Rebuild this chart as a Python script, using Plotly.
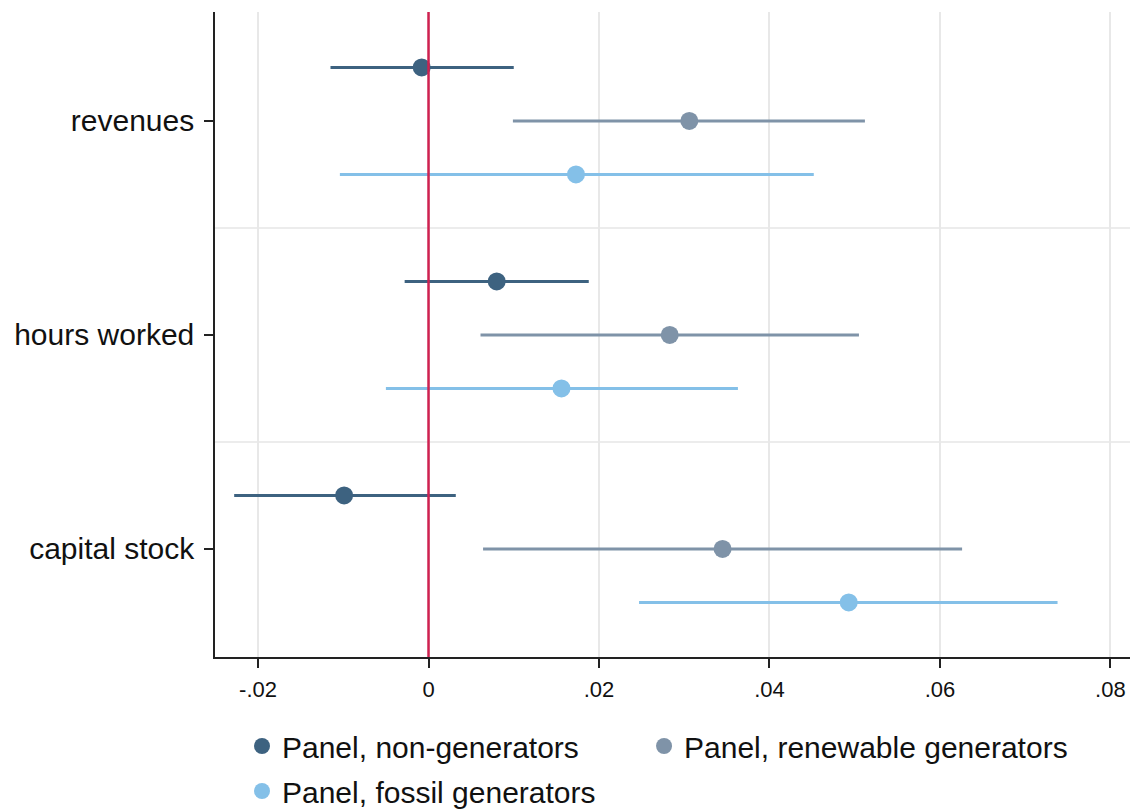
import plotly.graph_objects as go

categories = ["revenues", "hours worked", "capital stock"]
series_names = ["Panel, non-generators", "Panel, renewable generators", "Panel, fossil generators"]
colors = ["#3d6280", "#7f93a8", "#84c0e8"]

# point estimates and CIs per series, ordered as categories
est = [
    [-0.0008, 0.0080, -0.0099],
    [0.0306, 0.0283, 0.0345],
    [0.0173, 0.0156, 0.0493],
]
lo = [
    [-0.0115, -0.0028, -0.0228],
    [0.0099, 0.0061, 0.0064],
    [-0.0104, -0.0050, 0.0247],
]
hi = [
    [0.0100, 0.0188, 0.0032],
    [0.0512, 0.0505, 0.0626],
    [0.0452, 0.0363, 0.0738],
]

x_ticks = [-0.02, 0, 0.02, 0.04, 0.06, 0.08]
x_ticktext = ["-.02", "0", ".02", ".04", ".06", ".08"]

cat_pos = [2, 1, 0]
offsets = [0.25, 0.0, -0.25]
legend_ids = ["legend", "legend3", "legend2"]

fig = go.Figure()
for s in range(3):
    ys = [cat_pos[i] + offsets[s] for i in range(3)]
    fig.add_trace(go.Scatter(
        x=est[s], y=ys, mode="markers", name=series_names[s],
        legend=legend_ids[s],
        marker=dict(color=colors[s], size=18),
        error_x=dict(type="data", symmetric=False,
                     array=[hi[s][i] - est[s][i] for i in range(3)],
                     arrayminus=[est[s][i] - lo[s][i] for i in range(3)],
                     color=colors[s], thickness=3, width=0),
    ))

# separators between category groups
for yv in [0.5, 1.5]:
    fig.add_shape(type="line", xref="paper", x0=0, x1=1, yref="y", y0=yv, y1=yv,
                  line=dict(color="#e6e6e6", width=1.5), layer="below")
# zero reference line
fig.add_shape(type="line", xref="x", x0=0, x1=0, yref="paper", y0=0, y1=1,
              line=dict(color="#cf2150", width=2.5))

font_family = "Liberation Sans, Arial, sans-serif"
leg_common = dict(orientation="h", xanchor="left", yanchor="middle",
                  font=dict(size=30, family=font_family, color="#111111"),
                  bgcolor="rgba(0,0,0,0)")
fig.update_layout(
    width=1137, height=811,
    margin=dict(l=215, r=7, t=12, b=154, autoexpand=False),
    paper_bgcolor="white", plot_bgcolor="white",
    font=dict(family=font_family, color="#111111"),
    showlegend=True,
    legend=dict(x=0.0295, y=-0.138, **leg_common),
    legend3=dict(x=0.4689, y=-0.138, **leg_common),
    legend2=dict(x=0.0295, y=-0.2078, **leg_common),
    xaxis=dict(range=[-0.02505, 0.0823], tickvals=x_ticks, ticktext=x_ticktext,
               showgrid=True, gridcolor="#e8e8e8", gridwidth=1.5,
               zeroline=False, showline=True, linecolor="#222222", linewidth=1.5,
               ticks="outside", ticklen=9, tickcolor="#222222", tickwidth=1.5,
               ticklabelstandoff=3,
               tickfont=dict(size=22), mirror=False),
    yaxis=dict(range=[-0.505, 2.509], tickvals=cat_pos, ticktext=categories,
               showgrid=False, zeroline=False, showline=True, linecolor="#222222",
               linewidth=1.5, ticks="outside", ticklen=9, tickcolor="#222222",
               tickwidth=1.5, ticklabelstandoff=4, tickfont=dict(size=30)),
)

fig.write_html("out.html")
